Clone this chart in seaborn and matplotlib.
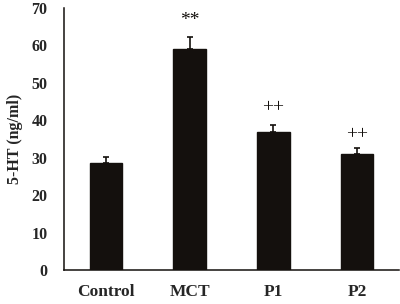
import pandas as pd
import seaborn as sns
import matplotlib.pyplot as plt

### DATA
groups = ['Control', 'MCT', 'P1', 'P2']
means = [28.6, 59.0, 36.8, 30.9]
sem = [1.6, 3.2, 2.0, 1.7]
marks = ['', '**', '++', '++']
mark_y = [0, 66.6, 43.3, 36.1]

df = pd.DataFrame({'group': groups, 'value': means})

### FIGURE
sns.set_style('white')
plt.rcParams['font.family'] = ['Liberation Serif', 'DejaVu Serif']
plt.rcParams['font.weight'] = 'bold'

fig = plt.figure(figsize=(4, 3.04), dpi=100)
ax = fig.add_axes([0.16, 0.112, 0.837, 0.862])

sns.barplot(data=df, x='group', y='value', order=groups, color='#14100d',
            saturation=1, width=0.39, errorbar=None, edgecolor='#14100d', ax=ax)

# upper-only error bars
ax.errorbar(range(len(groups)), means, yerr=[[0] * len(sem), sem],
            fmt='none', ecolor='#14100d', elinewidth=1.2, capsize=2, capthick=1.2)

for i, (m, y) in enumerate(zip(marks, mark_y)):
    if m:
        ax.text(i, y, m, ha='center', va='center', fontsize=14,
                fontweight='normal', color='#14100d')

ax.set_ylim(0, 70)
ax.set_xlim(-0.5, 3.5)
ax.set_yticks(range(0, 71, 10))
ax.set_xlabel('')
ax.set_ylabel('5-HT (ng/ml)', fontsize=11.5, fontweight='bold', labelpad=6)

for s in ['top', 'right']:
    ax.spines[s].set_visible(False)
for s in ['left', 'bottom']:
    ax.spines[s].set_linewidth(1.1)
    ax.spines[s].set_color('#14100d')

ax.tick_params(axis='y', direction='in', length=4, width=1.1, pad=12, labelsize=11.5)
ax.tick_params(axis='x', length=0, pad=10, labelsize=12.5)
for lab in ax.get_xticklabels() + ax.get_yticklabels():
    lab.set_fontweight('bold')

fig.savefig('out.png', dpi=100)
plt.close()
